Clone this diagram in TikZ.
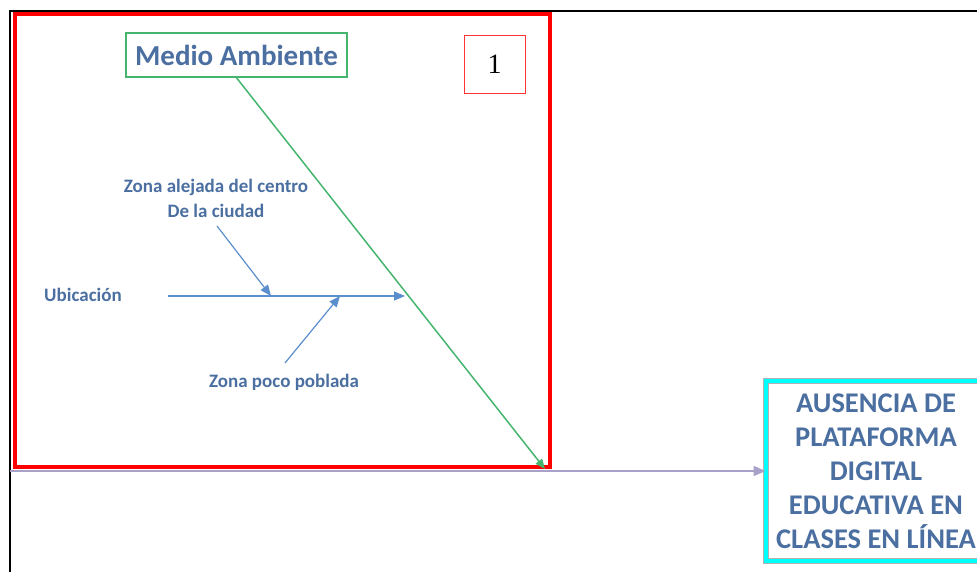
\documentclass[tikz,border=0pt]{standalone}
\usepackage{fontspec}
\setmainfont{Carlito}
\newfontfamily\numfont{Liberation Serif}
\usepackage{tikz}
\usetikzlibrary{arrows.meta}

\definecolor{causetext}{HTML}{4A6FA0}
\definecolor{ribblue}{HTML}{5B8ECC}
\definecolor{catgreen}{HTML}{45B56E}
\definecolor{spinegray}{HTML}{A8A2C8}
\definecolor{effcyan}{RGB}{0,255,255}

\begin{document}
\begin{tikzpicture}[x=1pt,y=-1pt,
    catbox/.style={draw=catgreen,line width=1.5pt,minimum width=221pt,minimum height=44pt,
        text=causetext,font=\fontsize{29}{32}\selectfont\bfseries},
    numbox/.style={draw=red!80,line width=0.8pt,minimum width=61pt,minimum height=58pt,
        font=\fontsize{28}{30}\selectfont\numfont},
    subtext/.style={text=causetext,font=\fontsize{19}{25}\selectfont\bfseries,align=center},
    effectbox/.style={draw=gray!60,double=effcyan,double distance=4pt,line width=0.8pt,
        minimum width=220pt,minimum height=180pt,text=causetext,align=center,
        font=\fontsize{28.5}{34}\selectfont\bfseries},
    rib/.style={ribblue,line width=1.2pt,-{Triangle[length=11pt,width=9pt]}}]

    \useasboundingbox (0,0) rectangle (977,572);

    % Frame and the highlighted category
    \draw[line width=2.5pt] (10,572) -- (10,11) -- (977,11);
    \draw[red,line width=4pt] (15,14) rectangle (550,467);

    % Place the nodes
    \node[catbox]    (medio)   at (236.5,55) {Medio Ambiente};
    \node[numbox]    (num)     at (494.5,64) {1};
    \node[effectbox] (efecto)  at (876,471)  {AUSENCIA DE\\PLATAFORMA\\DIGITAL\\EDUCATIVA EN\\CLASES EN LÍNEA};
    \node[subtext]   (ubic)    at (83,295)   {Ubicación};
    \node[subtext]   (alejada) at (216,198)  {Zona alejada del centro\\De la ciudad};
    \node[subtext]   (poco)    at (284,382)  {Zona poco poblada};

    % Points on the lines
    \coordinate (spine0) at (10,471);
    \coordinate (bone)   at (545,469);
    \coordinate (ubic0)  at (168,296);
    \coordinate (ubic1)  at (405,296);
    \coordinate (alej0)  at (217,226);
    \coordinate (alej1)  at (271,296);
    \coordinate (poco0)  at (285,363);
    \coordinate (poco1)  at (340,296);

    % Draw the spine and the bones
    \draw[spinegray,line width=1.5pt,-{Triangle[length=12pt,width=10pt]}] (spine0) -- (efecto.west);
    \draw[catgreen,line width=1.5pt,-{Triangle[length=10pt,width=8pt]}] (medio.south) -- (bone);
    \draw[rib] (ubic0) -- (ubic1);
    \draw[rib] (alej0) -- (alej1);
    \draw[rib] (poco0) -- (poco1);

\end{tikzpicture}
\end{document}
